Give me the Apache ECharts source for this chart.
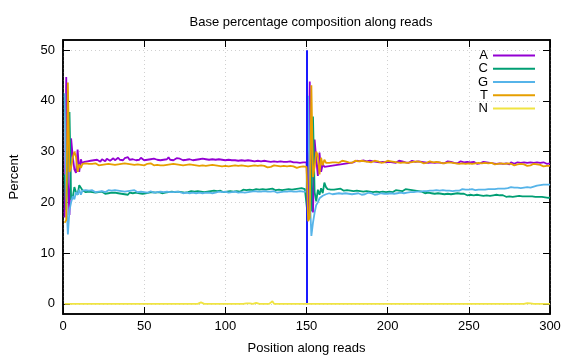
<!DOCTYPE html>
<html>
<head>
<meta charset="utf-8">
<script src="https://cdn.jsdelivr.net/npm/echarts@6/dist/echarts.min.js"></script>
<style>html,body{margin:0;padding:0;background:#fff}#c{width:576px;height:360px}</style>
</head>
<body>
<div id="c"></div>
<script>
const seriesNames = ['A', 'C', 'G', 'T', 'N'];
const seriesColors = ['#9400d3', '#009e73', '#56b4e9', '#e69f00', '#f0e442'];
const xTicks = [0, 50, 100, 150, 200, 250, 300];
const yTicks = [0, 10, 20, 30, 40, 50];
const readBoundary = 150;

const valuesA = [
17.0,44.7,24.0,17.5,32.6,29.0,26.5,25.8,30.4,26.0,28.5,27.6,28.0,27.8,28.1,
27.9,28.2,28.0,28.3,28.1,28.4,28.2,28.0,28.5,28.3,28.1,28.6,28.4,28.2,28.5,
28.7,28.3,28.5,28.8,28.4,28.6,28.3,28.7,28.5,28.9,28.4,28.6,28.5,28.7,28.3,
28.6,28.4,28.8,28.5,28.3,28.6,28.4,28.7,28.5,28.3,28.6,28.8,28.4,28.5,28.3,
28.6,28.4,28.7,28.5,28.9,28.4,28.6,28.3,28.5,28.7,28.4,28.6,28.5,28.3,28.6,
28.4,28.7,28.5,28.6,28.3,28.5,28.4,28.7,28.5,28.3,28.6,28.4,28.5,28.7,28.4,
28.3,28.5,28.6,28.4,28.2,28.5,28.3,28.4,28.6,28.3,28.2,28.4,28.5,28.3,28.1,
28.3,28.4,28.2,28.5,28.3,28.1,28.2,28.4,28.3,28.0,28.2,28.3,28.1,28.4,28.2,
28.0,28.1,28.3,28.2,27.9,28.1,28.2,28.0,28.3,28.1,27.9,28.0,28.2,28.1,27.9,
28.0,28.2,28.0,27.8,28.1,28.0,27.9,28.1,27.9,28.0,27.8,28.0,27.9,28.0,27.9,
17.5,43.8,24.0,18.0,32.4,28.5,25.2,29.8,26.0,27.5,27.0,27.3,27.1,27.4,27.2,
27.5,27.3,27.6,27.4,27.7,27.5,27.8,27.6,27.9,27.7,28.0,27.8,28.1,27.9,28.0,
28.2,27.9,28.1,28.0,28.3,28.0,28.1,27.9,28.2,28.0,28.1,28.3,28.0,28.2,27.9,
28.1,28.0,28.2,27.9,28.1,28.0,28.2,27.9,28.1,27.8,28.0,28.2,27.9,28.1,28.0,
27.9,28.1,27.8,28.0,28.2,27.9,28.0,27.8,28.1,27.9,28.0,28.2,27.9,28.0,27.8,
28.0,27.9,28.1,27.8,28.0,27.9,28.1,27.8,28.0,27.7,27.9,28.1,27.8,28.0,27.9,
27.8,28.0,27.7,27.9,28.1,27.8,27.9,27.7,28.0,27.8,27.9,27.7,28.0,27.8,27.6,
27.9,27.7,27.8,28.0,27.7,27.9,27.6,27.8,28.0,27.7,27.8,27.6,27.9,27.7,27.8,
27.6,27.9,27.7,27.8,27.5,27.9,27.7,27.6,27.8,27.9,27.6,27.8,27.7,27.9,27.6,
27.8,27.7,27.9,27.6,27.8,27.7,27.9,27.6,27.8,27.7,27.9,27.8,27.6,27.8,27.7
];
const valuesC = [
25.5,18.5,18.5,37.8,20.5,21.0,23.0,22.0,21.5,23.4,23.6,22.4,22.2,22.0,22.3,
22.1,22.3,22.0,22.2,21.9,22.1,22.0,21.8,22.1,21.9,21.7,22.0,21.8,21.6,21.9,
21.7,21.9,21.6,21.8,22.0,21.7,21.9,21.6,21.8,21.5,21.9,21.7,21.8,21.6,21.9,
21.7,21.8,22.0,21.7,21.9,21.8,21.6,21.9,21.8,22.0,21.7,21.9,21.8,22.0,21.9,
21.8,22.0,21.9,21.7,22.0,21.8,22.1,21.9,22.0,21.8,22.1,21.9,22.0,22.2,21.9,
22.1,22.0,21.9,22.2,22.0,22.1,21.9,22.2,22.0,22.1,22.3,22.0,22.2,22.1,22.0,
22.2,22.1,22.3,22.0,22.2,22.1,22.3,22.2,22.0,22.3,22.1,22.4,22.2,22.3,22.1,
22.3,22.2,22.4,22.1,22.3,22.5,22.2,22.4,22.3,22.5,22.2,22.4,22.3,22.6,22.4,
22.5,22.3,22.6,22.4,22.5,22.3,22.6,22.4,22.7,22.5,22.4,22.6,22.5,22.7,22.4,
22.6,22.5,22.7,22.6,22.8,22.5,22.7,22.6,22.8,22.7,22.5,22.8,22.7,22.6,22.8,
16.7,18.0,18.5,36.9,22.0,20.2,22.5,21.5,22.8,21.8,23.9,23.0,22.6,22.8,22.5,
22.7,22.5,22.8,22.6,22.4,22.7,22.5,22.3,22.6,22.4,22.6,22.3,22.5,22.2,22.4,
22.3,22.5,22.2,22.4,22.1,22.3,22.2,22.4,22.1,22.3,22.0,22.2,22.1,22.3,22.0,
22.2,22.1,22.3,22.0,22.2,22.1,22.3,22.0,22.2,22.4,22.1,22.3,22.5,22.2,22.4,
22.6,22.3,22.5,22.2,22.4,22.1,22.3,22.0,22.2,21.9,22.1,22.0,21.8,22.1,21.9,
22.0,21.8,22.0,21.7,21.9,21.8,22.0,21.7,21.9,21.6,21.8,21.7,21.9,21.6,21.8,
21.7,21.5,21.8,21.6,21.7,21.5,21.7,21.6,21.4,21.7,21.5,21.6,21.4,21.6,21.5,
21.6,21.4,21.6,21.3,21.5,21.4,21.6,21.3,21.5,21.4,21.2,21.5,21.3,21.4,21.2,
21.4,21.3,21.1,21.4,21.2,21.3,21.1,21.3,21.2,21.0,21.3,21.1,21.2,21.0,21.2,
21.1,21.2,21.0,21.2,21.0,21.1,20.9,21.1,21.0,21.1,20.9,21.0,21.1,20.9,21.0
];
const valuesG = [
41.5,21.0,13.7,18.5,20.0,21.2,20.6,22.0,21.5,22.5,21.5,22.3,22.1,22.4,22.2,
22.3,22.1,22.4,22.2,22.0,22.3,22.1,22.4,22.2,22.3,22.0,22.2,22.4,22.1,22.3,
22.2,22.4,22.1,22.3,22.0,22.2,22.4,22.1,22.3,22.2,22.0,22.3,22.1,22.4,22.2,
22.0,22.2,22.1,22.3,22.0,22.2,21.9,22.1,22.2,22.0,21.9,22.1,22.0,21.8,22.1,
21.9,22.0,21.8,22.1,21.9,22.0,21.8,22.0,21.9,22.1,21.8,22.0,21.9,21.8,22.0,
21.9,22.1,21.8,22.0,21.9,22.0,21.8,22.1,21.9,22.0,21.8,22.0,21.9,22.1,21.9,
22.0,21.8,22.1,21.9,22.0,22.1,21.9,22.0,21.8,22.1,22.0,21.9,22.1,22.0,21.9,
22.1,22.0,21.9,22.1,22.0,22.2,21.9,22.1,22.0,21.9,22.1,22.0,22.2,21.9,22.1,
22.0,22.1,21.9,22.2,22.0,22.1,21.9,22.1,22.0,22.2,22.0,21.9,22.1,22.0,22.2,
22.1,21.9,22.1,22.0,22.2,22.0,22.1,21.9,22.1,22.0,22.2,22.0,22.1,21.9,22.1,
41.0,21.5,13.4,16.0,18.0,19.5,20.0,20.8,20.5,21.3,21.0,21.6,21.5,21.8,21.6,
21.6,21.5,21.7,21.6,21.8,21.6,21.7,21.5,21.8,21.6,21.7,21.9,21.6,21.8,21.7,
21.6,21.8,21.7,21.5,21.8,21.6,21.7,21.9,21.6,21.8,21.7,21.5,21.8,21.6,21.7,
21.8,21.6,21.7,21.5,21.7,21.6,21.8,21.5,21.7,21.6,21.8,21.7,21.9,21.7,21.8,
21.7,21.9,21.8,22.0,21.8,22.0,21.9,22.1,21.9,22.1,22.0,22.2,22.0,22.2,22.1,
22.3,22.1,22.3,22.2,22.4,22.2,22.3,22.1,22.4,22.2,22.3,22.5,22.3,22.4,22.2,
22.4,22.3,22.5,22.3,22.4,22.6,22.4,22.5,22.3,22.5,22.4,22.6,22.5,22.4,22.6,
22.5,22.7,22.5,22.6,22.5,22.7,22.6,22.8,22.6,22.7,22.6,22.8,22.7,22.9,22.7,
22.8,22.7,22.9,22.8,22.7,23.0,22.8,22.9,23.1,22.9,23.0,22.8,23.0,22.9,23.1,
23.0,23.1,22.9,23.2,23.1,23.0,23.3,23.2,23.4,23.3,23.5,23.4,23.5,23.6,23.5
];
const valuesT = [
16.0,16.5,43.6,26.0,26.9,28.8,30.0,29.0,26.0,27.5,26.8,27.6,27.5,27.7,27.4,
27.6,27.3,27.6,27.4,27.7,27.5,27.3,27.6,27.4,27.7,27.5,27.3,27.6,27.8,27.5,
27.6,27.4,27.7,27.5,27.3,27.6,27.4,27.7,27.5,27.6,27.3,27.5,27.7,27.4,27.6,
27.5,27.7,27.4,27.6,27.3,27.5,27.6,27.4,27.7,27.5,27.3,27.6,27.4,27.5,27.3,
27.5,27.3,27.6,27.4,27.2,27.5,27.3,27.6,27.4,27.5,27.3,27.4,27.6,27.3,27.5,
27.4,27.2,27.5,27.3,27.4,27.6,27.3,27.5,27.2,27.4,27.3,27.5,27.2,27.4,27.3,
27.1,27.4,27.2,27.3,27.5,27.2,27.4,27.1,27.3,27.2,27.4,27.1,27.3,27.2,27.0,
27.3,27.1,27.2,27.0,27.3,27.1,27.2,27.4,27.1,27.0,27.2,27.1,27.3,27.0,27.2,
27.1,27.3,27.0,27.2,27.1,26.9,27.2,27.0,27.1,27.3,27.0,27.2,26.9,27.1,27.0,
27.2,26.9,27.1,27.0,27.2,26.9,27.1,27.0,26.8,27.1,27.0,26.9,27.1,26.9,27.0,
16.3,17.0,43.1,25.0,27.0,30.0,29.2,25.5,28.8,27.3,28.4,27.8,28.0,27.8,28.1,
27.9,28.2,27.9,28.1,27.8,28.0,28.2,27.9,28.1,28.3,27.9,28.1,27.8,28.0,28.2,
27.9,28.1,28.0,28.2,27.9,28.1,27.8,28.0,28.2,27.9,28.0,28.2,27.9,28.1,28.0,
27.8,28.1,27.9,28.0,28.2,27.9,28.1,27.8,28.0,28.2,27.9,28.0,27.8,28.1,27.9,
28.0,27.8,28.1,27.9,27.8,28.0,27.9,28.1,27.8,28.0,27.9,27.7,28.0,27.8,27.9,
28.1,27.8,27.9,27.7,28.0,27.8,27.9,28.0,27.7,27.9,27.8,27.6,27.9,27.7,27.8,
27.9,27.7,27.8,27.6,27.9,27.7,27.8,27.6,27.8,27.7,27.9,27.6,27.8,27.7,27.5,
27.8,27.6,27.7,27.5,27.8,27.6,27.7,27.5,27.8,27.6,27.5,27.7,27.6,27.4,27.7,
27.5,27.6,27.4,27.7,27.5,27.6,27.4,27.3,27.6,27.5,27.4,27.6,27.3,27.5,27.4,
27.2,27.5,27.3,27.4,27.6,27.3,27.5,27.2,27.4,27.3,27.1,27.4,27.2,27.3,27.2
];
const valuesN = [
0,0,0,0,0,0,0,0,0,0,0,0,0,0,0,
0,0,0,0,0,0,0,0,0,0,0,0,0,0,0,
0,0,0,0,0,0,0,0,0,0,0,0,0,0,0,
0,0,0,0,0,0,0,0,0,0,0,0,0,0,0,
0,0,0,0,0,0,0,0,0,0,0,0,0,0,0,
0,0,0,0,0,0,0,0,0,0.3,0,0,0,0,0,
0,0,0,0,0,0,0,0,0,0,0,0,0,0,0,
0,0,0,0,0,0,0,0.1,0.2,0.1,0,0,0,0.2,0,
0,0,0,0,0,0,0,0,0.5,0,0,0,0,0,0,
0,0,0,0,0,0,0,0,0,0,0,0,0,0,0,
0,0,0,0,0,0,0,0,0,0,0,0,0,0,0,
0,0,0,0,0,0,0,0,0,0,0,0,0,0,0,
0,0,0,0,0,0,0,0,0,0,0,0,0,0,0,
0,0,0,0,0,0,0,0,0,0,0,0,0,0,0,
0,0,0,0,0,0,0,0,0,0,0,0,0,0,0,
0,0,0,0,0,0,0,0,0,0,0,0,0,0,0,
0,0,0,0,0,0,0,0,0,0,0,0,0,0,0,
0,0,0,0,0,0,0,0,0,0,0,0,0,0,0,
0,0,0,0,0,0,0,0,0,0,0,0,0,0,0.1,
0.15,0.15,0.1,0,0,0,0,0,0,0,0,0,0,0,0
];

const allValues = [valuesA, valuesC, valuesG, valuesT, valuesN];
const positions = valuesA.map((_, i) => i + 1);

const FONT = '"Liberation Sans", Arial, sans-serif';
const chart = echarts.init(document.getElementById('c'), null, {renderer: 'canvas'});

const series = seriesNames.map((name, k) => ({
  name: name,
  type: 'line',
  data: positions.map((p, i) => [p, allValues[k][i]]),
  showSymbol: false,
  symbol: 'none',
  lineStyle: {color: seriesColors[k], width: 1.8},
  itemStyle: {color: seriesColors[k]},
  silent: true,
  z: 2 + k
}));
series.push({
  type: 'line',
  data: [],
  silent: true,
  z: 10,
  markLine: {
    silent: true,
    symbol: ['none', 'none'],
    label: {show: false},
    lineStyle: {color: '#1a1aff', width: 2, type: 'solid'},
    data: [[{coord: [readBoundary, 0]}, {coord: [readBoundary, 50]}]]
  }
});

function tickStyle(extra) {
  return Object.assign({show: true, inside: true, length: 7, lineStyle: {color: '#000', width: 1}}, extra || {});
}
function axisLineStyle() {
  return {show: true, onZero: false, lineStyle: {color: '#000', width: 1.5}};
}
function xAxisBase(extra) {
  return Object.assign({
    type: 'value', min: 0, max: 300, interval: 50,
    axisLine: axisLineStyle(), axisTick: tickStyle(), splitLine: {show: false}
  }, extra);
}
function yAxisBase(extra) {
  return Object.assign({
    type: 'value', min: -2, max: 52,
    axisLine: axisLineStyle(), axisTick: tickStyle({customValues: yTicks}), splitLine: {show: false}
  }, extra);
}

chart.setOption({
  backgroundColor: '#fff',
  animation: false,
  title: {
    text: 'Base percentage composition along reads',
    left: 306, top: 11, textAlign: 'center',
    textStyle: {fontFamily: FONT, fontSize: 13, fontWeight: 'normal', color: '#000'}
  },
  legend: {
    data: seriesNames,
    orient: 'vertical',
    right: 36, top: 44,
    align: 'right',
    itemWidth: 42, itemHeight: 2,
    itemGap: 0.25,
    itemTextGap: 6,
    icon: 'rect',
    selectedMode: false,
    textStyle: {fontFamily: FONT, fontSize: 13, color: '#000', lineHeight: 13, width: 10, align: 'center'}
  },
  grid: {left: 60, right: 26, top: 40, bottom: 45, show: true, borderColor: '#000', borderWidth: 1.5, backgroundColor: 'transparent'},
  xAxis: [
    xAxisBase({
      position: 'bottom',
      name: 'Position along reads', nameLocation: 'middle', nameGap: 28,
      nameTextStyle: {fontFamily: FONT, fontSize: 13, color: '#000'},
      axisLabel: {fontFamily: FONT, fontSize: 13, color: '#000', margin: 6},
      splitLine: {show: true, lineStyle: {color: '#d0d0d0', type: [1, 3], width: 1}}
    }),
    xAxisBase({position: 'top', axisLabel: {show: false}})
  ],
  yAxis: [
    yAxisBase({
      position: 'left',
      name: 'Percent', nameLocation: 'middle', nameGap: 42,
      nameTextStyle: {fontFamily: FONT, fontSize: 13, color: '#000'},
      axisLabel: {fontFamily: FONT, fontSize: 13, color: '#000', margin: 8, customValues: yTicks},
      splitLine: {show: true, lineStyle: {color: '#d0d0d0', type: [1, 3], width: 1}}
    }),
    yAxisBase({position: 'right', axisLabel: {show: false}})
  ],
  series: series
});
</script>
</body>
</html>
